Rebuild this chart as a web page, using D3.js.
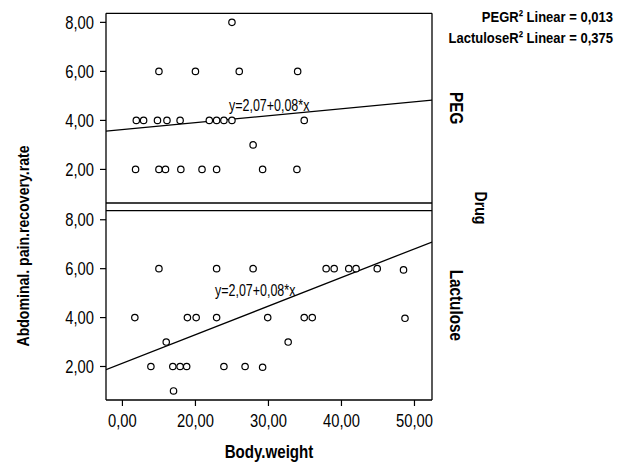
<!doctype html>
<meta charset='utf-8'>
<style>
  body { margin: 0; background: #fff; }
  text { font-family: 'Liberation Sans', Arial, sans-serif; fill: #000; }
</style>
<body>
<script src='https://cdn.jsdelivr.net/npm/d3@7/dist/d3.min.js'></script>
<script>

// PEG panel (Body.weight, Abdominal pain recovery rate)
var pegX = [25, 15, 20, 26, 34,
            11.9, 12.9, 14.8, 16.1, 17.9, 21.9, 22.9, 23.9, 25, 34.9,
            27.9,
            11.8, 15, 15.9, 18, 20.9, 22.9, 29.2, 33.9];
var pegY = [8, 6, 6, 6, 6,
            4, 4, 4, 4, 4, 4, 4, 4, 4, 4,
            3,
            2, 2, 2, 2, 2, 2, 2, 2];

// Lactulose panel
var lacX = [15, 22.9, 27.9, 37.9, 39, 41, 42, 44.9, 48.5,
            11.7, 18.9, 20.1, 22.9, 29.9, 34.9, 36, 48.7,
            16, 32.7,
            13.9, 16.9, 17.9, 18.8, 23.9, 26.8, 29.2,
            17];
var lacY = [6, 6, 6, 6, 6, 6, 6, 6, 5.95,
            4, 4, 4, 4, 4, 4, 4, 3.97,
            3, 3,
            2, 2, 2, 2, 2, 2, 1.97,
            1];

var drugs = ['PEG', 'Lactulose'];
var fitIntercept = [3.34, 0.96];
var fitSlope = [0.0284, 0.117];
var fitLabels = ['y=2,07+0,08*x', 'y=2,07+0,08*x'];
var r2Labels = ['PEGR\u00b2 Linear = 0,013', 'LactuloseR\u00b2 Linear = 0,375'];

var xTicks = [10, 20, 30, 40, 50];
var xTickLabels = ['0,00', '20,00', '30,00', '40,00', '50,00'];
var yTicks = [2, 4, 6, 8];
var yTickLabels = ['2,00', '4,00', '6,00', '8,00'];

var width = 617, height = 465;
var left = 106, right = 432;
var panels = [{top: 13.3, bottom: 203}, {top: 210.7, bottom: 400}];

var svg = d3.select('body').append('svg')
    .attr('width', width)
    .attr('height', height);

// no narrow font installed, so squeeze text horizontally
function label(parent, tx, ty, rot, anchor, size, bold, squeeze, str) {
  return parent.append('text')
    .attr('transform', 'translate(' + tx + ',' + ty + ') rotate(' + rot + ') scale(' + squeeze + ',1)')
    .attr('text-anchor', anchor)
    .style('font-size', size + 'px')
    .style('font-weight', bold ? 'bold' : 'normal')
    .text(str);
}

var x = d3.scaleLinear().domain([7.75, 52.4]).range([left, right]);

var series = [
  {x: pegX, y: pegY},
  {x: lacX, y: lacY}
];

var eqPos = [{x: 229, y: 111}, {x: 215, y: 296}];

panels.forEach(function(p, i) {
  var y = d3.scaleLinear().domain([0.63, 8.37]).range([p.bottom, p.top]);
  var g = svg.append('g');

  // frame lines
  g.append('line').attr('x1', left).attr('x2', right)
    .attr('y1', p.top).attr('y2', p.top)
    .attr('stroke', '#000').attr('stroke-width', 1.3);
  g.append('line').attr('x1', left).attr('x2', right)
    .attr('y1', p.bottom).attr('y2', p.bottom)
    .attr('stroke', '#000').attr('stroke-width', 1.3);

  // y axis
  g.selectAll('.ytick').data(yTicks).enter().append('line')
    .attr('x1', left - 6).attr('x2', left)
    .attr('y1', function(d) { return y(d); })
    .attr('y2', function(d) { return y(d); })
    .attr('stroke', '#000').attr('stroke-width', 1.2);
  yTicks.forEach(function(d, j) {
    label(g, left - 12, y(d) + 6.5, 0, 'end', 18, false, 0.82, yTickLabels[j]);
  });

  // fit line
  var clip = 'clip' + i;
  svg.append('clipPath').attr('id', clip).append('rect')
    .attr('x', left).attr('y', p.top)
    .attr('width', right - left).attr('height', p.bottom - p.top);
  var line = d3.line()
    .x(function(d) { return x(d); })
    .y(function(d) { return y(fitIntercept[i] + fitSlope[i] * d); });
  g.append('path')
    .attr('clip-path', 'url(#' + clip + ')')
    .attr('d', line(x.domain()))
    .attr('fill', 'none')
    .attr('stroke', '#000')
    .attr('stroke-width', 1.3);

  // points
  var s = series[i];
  g.selectAll('circle').data(s.x).enter().append('circle')
    .attr('cx', function(d) { return x(d); })
    .attr('cy', function(d, j) { return y(s.y[j]); })
    .attr('r', 3.2)
    .attr('fill', '#fff')
    .attr('stroke', '#000')
    .attr('stroke-width', 1.2);

  label(g, eqPos[i].x, eqPos[i].y, 0, 'start', 16, false, 0.78, fitLabels[i]);

  // strip label
  label(g, 450, (p.top + p.bottom) / 2, 90, 'middle', 18, true, 0.85, drugs[i]);
});

// left and right borders run through both panels
svg.append('line').attr('x1', left).attr('x2', left)
  .attr('y1', panels[0].top).attr('y2', panels[1].bottom)
  .attr('stroke', '#000').attr('stroke-width', 1.3);
svg.append('line').attr('x1', right).attr('x2', right)
  .attr('y1', panels[0].top).attr('y2', panels[1].bottom)
  .attr('stroke', '#000').attr('stroke-width', 1.3);

// x axis
var xb = panels[1].bottom;
svg.selectAll('.xtick').data(xTicks).enter().append('line')
  .attr('x1', function(d) { return x(d); })
  .attr('x2', function(d) { return x(d); })
  .attr('y1', xb).attr('y2', xb + 6)
  .attr('stroke', '#000').attr('stroke-width', 1.2);
xTicks.forEach(function(d, j) {
  label(svg, x(d), 427, 0, 'middle', 18, false, 0.82, xTickLabels[j]);
});

label(svg, (left + right) / 2, 458, 0, 'middle', 18, true, 0.84, 'Body.weight');
label(svg, 29, 246, -90, 'middle', 17, true, 0.83, 'Abdominal. pain.recovery.rate');
label(svg, 475, 208, 90, 'middle', 17, true, 0.83, 'Drug');

r2Labels.forEach(function(d, i) {
  label(svg, 613, 21.5 + i * 21, 0, 'end', 15.5, true, 0.84, d);
});

</script>
